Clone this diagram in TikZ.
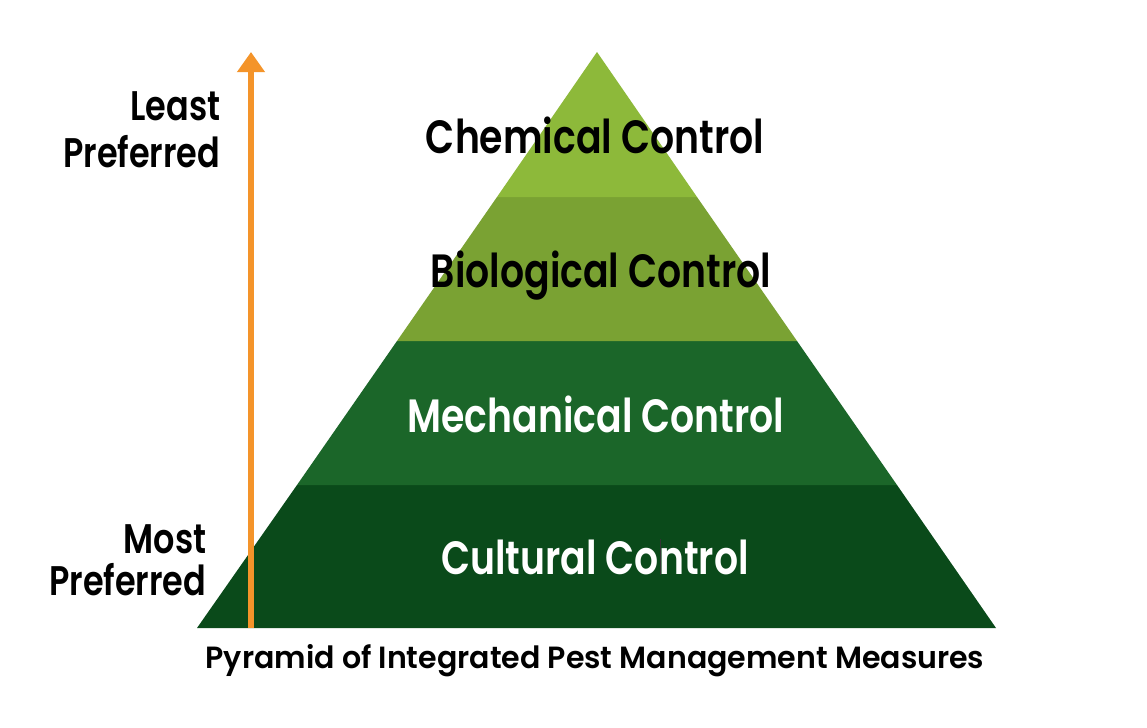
\documentclass[tikz,border=0pt]{standalone}
\usepackage{fontspec}
\newfontfamily\tierfont{Poppins SemiBold}[FakeStretch=0.81]
\newfontfamily\capfont{Poppins SemiBold}[FakeStretch=0.98]
\usetikzlibrary{arrows.meta}
\definecolor{tierA}{HTML}{8DB93A}
\definecolor{tierB}{HTML}{7AA233}
\definecolor{tierC}{HTML}{1B6629}
\definecolor{tierD}{HTML}{0A4A1A}
\definecolor{axisorange}{HTML}{F4942A}
\tikzset{
  tier/.style={font=\tierfont\fontsize{35}{40}\selectfont, anchor=base},
  side/.style={font=\tierfont\fontsize{31}{35}\selectfont, anchor=base east},
  caption/.style={font=\capfont\fontsize{23}{27}\selectfont, anchor=base},
}
\begin{document}
\begin{tikzpicture}[x=0.75pt,y=-0.75pt]
\useasboundingbox[fill=white] (0,0) rectangle (1147,728);
% pyramid corners
\coordinate (apex) at (597,52);
\coordinate (bl) at (197,628);
\coordinate (br) at (996,628);
% tiers, bottom to top
\fill[tierD] (297,485) -- (897,485) -- (br) -- (bl) -- cycle;
\fill[tierC] (397,341) -- (797,341) -- (897,485) -- (297,485) -- cycle;
\fill[tierB] (497,197) -- (697,197) -- (797,341) -- (397,341) -- cycle;
\fill[tierA] (apex) -- (697,197) -- (497,197) -- cycle;
% preference axis
\coordinate (axbot) at (251,628);
\coordinate (axtop) at (251,52);
\draw[axisorange, line width=4.5pt, -{Triangle[length=15pt,width=20pt]}] (axbot) -- (axtop);
% tier labels
\node[tier, text=black] (chem) at (595,153) {Chemical Control};
\node[tier, text=black] (bio) at (601,287) {Biological Control};
\node[tier, text=white] (mech) at (596,432) {Mechanical Control};
\node[tier, text=white] (cult) at (595,574) {Cultural Control};
\draw[black!80, line width=0.6pt] (660,539) -- (660,575);
% axis labels
\node[side] (least) at (225,120) {Least};
\node[side] (leastp) at (225,167) {Preferred};
\node[side] (most) at (211,553) {Most};
\node[side] (mostp) at (211,595) {Preferred};
% caption
\node[caption] (cap) at (595,668) {Pyramid of Integrated Pest Management Measures};
\end{tikzpicture}
\end{document}
